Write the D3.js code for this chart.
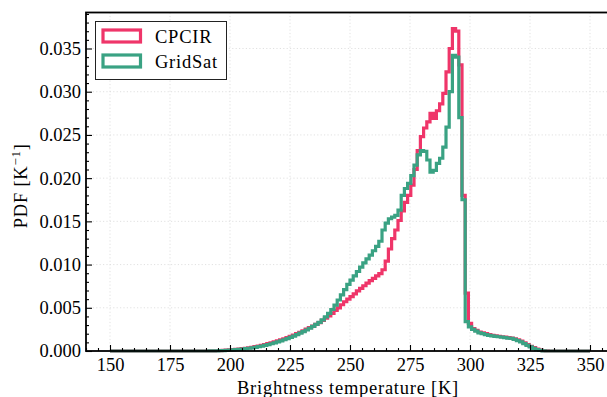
<!DOCTYPE html>
<html>
<head>
<meta charset="utf-8">
<script src="https://cdn.jsdelivr.net/npm/d3@7"></script>
<style>
  html, body { margin: 0; padding: 0; background: #fff; }
  svg { display: block; }
</style>
</head>
<body>
<svg id="chart" width="607" height="397"></svg>
<script>
// Histogram binning: 150 equal bins spanning 150–350 K
const binRange = [150, 350];
const binCount = 150;
// index of the first bin listed below; every other bin is empty
const firstBin = 30;

// PDF per bin, in units of 1e-3 K^-1
const cpcirPdf = [
  0.00, 0.01, 0.02, 0.03, 0.05, 0.07, 0.09, 0.12, 0.15, 0.19,
  0.23, 0.27, 0.32, 0.37, 0.43, 0.50, 0.58, 0.66, 0.75, 0.85,
  0.95, 1.06, 1.17, 1.29, 1.42, 1.56, 1.70, 1.85, 2.00, 2.17,
  2.34, 2.52, 2.70, 2.89, 3.08, 3.28, 3.55, 3.80, 4.05, 4.35,
  4.70, 5.00, 5.35, 5.70, 6.00, 6.30, 6.60, 6.95, 7.25, 7.55,
  7.85, 8.15, 8.40, 8.70, 8.95, 9.40, 10.4, 11.8, 13.0, 14.0,
  15.1, 16.2, 17.2, 18.0, 19.2, 21.0, 23.2, 24.8, 25.8, 26.5,
  27.5, 26.9, 27.8, 28.6, 29.8, 32.3, 35.0, 37.3, 37.0, 33.1,
  18.0, 6.7, 3.2, 2.6, 2.4, 2.2, 2.1, 2.0, 1.9, 1.8,
  1.75, 1.7, 1.65, 1.6, 1.55, 1.5, 1.4, 1.3, 1.15, 0.95,
  0.75, 0.55, 0.38, 0.22, 0.10, 0.04, 0.01
];
const gridsatPdf = [
  0.00, 0.01, 0.015, 0.025, 0.04, 0.055, 0.07, 0.09, 0.12, 0.15,
  0.19, 0.23, 0.27, 0.32, 0.37, 0.43, 0.50, 0.57, 0.65, 0.74,
  0.84, 0.94, 1.05, 1.17, 1.30, 1.44, 1.58, 1.73, 1.89, 2.06,
  2.24, 2.43, 2.63, 2.84, 3.07, 3.32, 3.60, 3.95, 4.35, 4.80,
  5.30, 5.90, 6.50, 7.10, 7.70, 8.20, 8.70, 9.20, 9.70, 10.2,
  10.65, 11.1, 11.6, 12.1, 12.7, 14.0, 14.8, 15.3, 15.5, 15.7,
  16.3, 18.0, 18.8, 19.4, 20.3, 21.5, 22.7, 23.2, 23.1, 22.1,
  20.7, 20.9, 21.7, 22.3, 23.6, 25.9, 30.0, 34.2, 34.0, 27.0,
  17.5, 3.4, 2.8, 2.5, 2.3, 2.1, 2.0, 1.9, 1.8, 1.75,
  1.7, 1.65, 1.6, 1.55, 1.5, 1.45, 1.35, 1.2, 1.05, 0.85,
  0.65, 0.47, 0.30, 0.17, 0.07, 0.02, 0.00
];

const seriesNames = ["CPCIR", "GridSat"];
const seriesColors = ["#ef3569", "#3aa283"];

const xTicks = [150, 175, 200, 225, 250, 275, 300, 325, 350];
const yTicks = [0, 0.005, 0.010, 0.015, 0.020, 0.025, 0.030, 0.035];

const FONT = "'Liberation Serif', 'Times New Roman', 'DejaVu Serif', serif";
const FONT_SIZE = 18.5;
const WORD_SPACING = "0.75px"; // widen the serif face for word labels

// ---- layout ----
const svg = d3.select("#chart");
const plot = { left: 86, right: 614, top: 12.5, bottom: 351 };
const xDomain = [140, 360];
const peak = d3.max([...cpcirPdf, ...gridsatPdf]) * 1e-3;
const yDomain = [0, peak * 1.05];

const x = d3.scaleLinear().domain(xDomain).range([plot.left, plot.right]);
const y = d3.scaleLinear().domain(yDomain).range([plot.bottom, plot.top]);

// full set of bins for one series
function histogram(partial) {
  const w = (binRange[1] - binRange[0]) / binCount;
  const pts = [];
  for (let k = 0; k < binCount; k++) {
    const j = k - firstBin;
    const v = (j >= 0 && j < partial.length) ? partial[j] * 1e-3 : 0;
    pts.push([binRange[0] + k * w, v]);
  }
  pts.push([binRange[1], pts[pts.length - 1][1]]);
  pts.push([binRange[1], 0]);
  return pts;
}

// ---- grid ----
const grid = svg.append("g")
  .attr("stroke", "#d9d9d9").attr("stroke-width", 0.8)
  .attr("stroke-dasharray", "1.2,2.2");
grid.selectAll(".gx").data(xTicks).join("line")
  .attr("x1", d => x(d)).attr("x2", d => x(d))
  .attr("y1", plot.top).attr("y2", plot.bottom);
grid.selectAll(".gy").data(yTicks.filter(d => d > 0)).join("line")
  .attr("x1", plot.left).attr("x2", plot.right)
  .attr("y1", d => y(d)).attr("y2", d => y(d));

// ---- step histograms ----
const line = d3.line()
  .x(d => x(d[0])).y(d => y(d[1]))
  .curve(d3.curveStepAfter);

[cpcirPdf, gridsatPdf].forEach((s, i) => {
  svg.append("path")
    .datum(histogram(s))
    .attr("fill", "none")
    .attr("stroke", seriesColors[i])
    .attr("stroke-width", 3.2)
    .attr("stroke-linejoin", "miter")
    .attr("d", line);
});

// ---- axes (inward ticks) ----
const xAxis = d3.axisBottom(x).tickValues(xTicks).tickSize(-6).tickPadding(7)
  .tickFormat(d3.format("d"));
const xMinor = d3.axisBottom(x).tickValues(d3.range(140, 361, 5).filter(v => v % 25 !== 0))
  .tickSize(-3).tickFormat("");
const yAxis = d3.axisLeft(y).tickValues(yTicks).tickSize(-6).tickPadding(5)
  .tickFormat(d3.format(".3f"));
const yMinor = d3.axisLeft(y).tickValues(d3.range(0.001, 0.0391, 0.001).filter((v, i) => (i + 1) % 5 !== 0))
  .tickSize(-3).tickFormat("");

function styleAxis(g) {
  g.attr("font-family", null).attr("font-size", null);
  g.select(".domain").remove();
  g.selectAll(".tick line").attr("stroke", "#000").attr("stroke-width", 1.1);
  g.selectAll(".tick text")
    .style("font-family", FONT).style("font-size", FONT_SIZE + "px")
    .attr("fill", "#000");
}

svg.append("g").attr("transform", `translate(0,${plot.bottom})`).call(xAxis).call(styleAxis);
svg.append("g").attr("transform", `translate(0,${plot.bottom})`).call(xMinor).call(styleAxis);
svg.append("g").attr("transform", `translate(${plot.left},0)`).call(yAxis).call(styleAxis);
svg.append("g").attr("transform", `translate(${plot.left},0)`).call(yMinor).call(styleAxis);

// spines
svg.append("rect")
  .attr("x", plot.left).attr("y", plot.top)
  .attr("width", plot.right - plot.left).attr("height", plot.bottom - plot.top)
  .attr("fill", "none").attr("stroke", "#000").attr("stroke-width", 1.8);

// ---- axis labels ----
svg.append("text")
  .attr("x", (plot.left + plot.right) / 2 - 2).attr("y", 394)
  .attr("text-anchor", "middle")
  .style("font-family", FONT).style("font-size", FONT_SIZE + "px")
  .style("letter-spacing", WORD_SPACING)
  .text("Brightness temperature [K]");

const yl = svg.append("text")
  .attr("transform", `translate(27,${(plot.top + plot.bottom) / 2 + 4}) rotate(-90)`)
  .attr("text-anchor", "middle")
  .style("font-family", FONT).style("font-size", FONT_SIZE + "px")
  .style("letter-spacing", WORD_SPACING);
yl.append("tspan").text("PDF [K");
yl.append("tspan").attr("dy", -7).style("font-size", "13px").text("\u22121");
yl.append("tspan").attr("dy", 7).text("]");

// ---- legend ----
const lg = svg.append("g");
lg.append("rect")
  .attr("x", 95.5).attr("y", 21.5).attr("width", 131).attr("height", 58)
  .attr("fill", "#fff").attr("stroke", "#222").attr("stroke-width", 1);
seriesNames.forEach((name, i) => {
  const yy = 28.5 + i * 25;
  lg.append("rect")
    .attr("x", 103).attr("y", yy + 1.5).attr("width", 37.5).attr("height", 12)
    .attr("fill", "none").attr("stroke", seriesColors[i]).attr("stroke-width", 3.2);
  lg.append("text")
    .attr("x", 155).attr("y", yy + 14.5)
    .style("font-family", FONT).style("font-size", FONT_SIZE + "px")
    .style("letter-spacing", WORD_SPACING)
    .text(name);
});
</script>
</body>
</html>
